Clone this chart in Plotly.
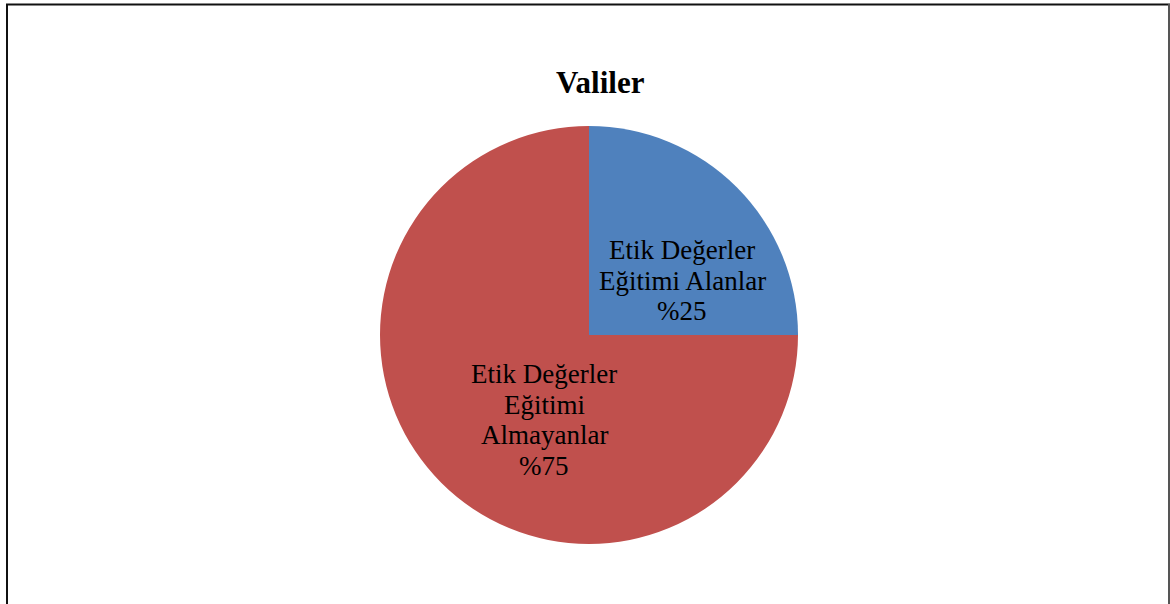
import plotly.graph_objects as go

# Chart data
labels = ["Etik Değerler Eğitimi Alanlar", "Etik Değerler Eğitimi Almayanlar"]
values = [25, 75]
colors = ["#4F81BD", "#C0504D"]
title_text = "Valiler"

# Line breaks used for each slice label
label_lines = [
    ["Etik Değerler", "Eğitimi Alanlar"],
    ["Etik Değerler", "Eğitimi", "Almayanlar"],
]

W, H = 1170, 604


def px_x(x):
    return x / W


def px_y(y):
    return 1 - y / H


total = sum(values)
percents = [round(v * 100 / total) for v in values]

fig = go.Figure(
    go.Pie(
        labels=labels,
        values=values,
        marker=dict(colors=colors, line=dict(width=0)),
        sort=False,
        direction="clockwise",
        rotation=0,
        textinfo="none",
        hoverinfo="label+percent",
        showlegend=False,
        domain=dict(x=[px_x(380), px_x(798)], y=[px_y(544), px_y(126)]),
    )
)

font_family = "Liberation Serif"
label_font = dict(family=font_family, size=27, color="#000000")

# Label anchors (centre x, first line y) and line spacing for each slice
anchors = [(682, 250), (544, 374)]
line_gap = 30.7

annotations = []
for i, (lines, pct) in enumerate(zip(label_lines, percents)):
    cx, y0 = anchors[i]
    all_lines = lines + [f"%{pct}"]
    for j, line in enumerate(all_lines):
        annotations.append(
            dict(
                text=line,
                x=px_x(cx),
                y=px_y(y0 + j * line_gap),
                xref="paper",
                yref="paper",
                xanchor="center",
                yanchor="middle",
                showarrow=False,
                font=label_font,
            )
        )

annotations.append(
    dict(
        text=f"<b>{title_text}</b>",
        x=px_x(600),
        y=px_y(82),
        xref="paper",
        yref="paper",
        xanchor="center",
        yanchor="middle",
        showarrow=False,
        font=dict(family=font_family, size=31, color="#000000"),
    )
)

# Chart frame
frame = [
    dict(type="line", x0=px_x(7), x1=px_x(7), y0=px_y(4), y1=px_y(604),
         line=dict(color="#111111", width=2)),
    dict(type="line", x0=px_x(6), x1=px_x(1170), y0=px_y(4.5), y1=px_y(4.5),
         line=dict(color="#111111", width=2)),
    dict(type="line", x0=px_x(1169), x1=px_x(1169), y0=px_y(4), y1=px_y(604),
         line=dict(color="#555555", width=2)),
]
for s in frame:
    s.update(xref="paper", yref="paper")

fig.update_layout(
    width=W,
    height=H,
    margin=dict(l=0, r=0, t=0, b=0),
    paper_bgcolor="#FFFFFF",
    plot_bgcolor="#FFFFFF",
    annotations=annotations,
    shapes=frame,
)

fig.write_html("out.html")
